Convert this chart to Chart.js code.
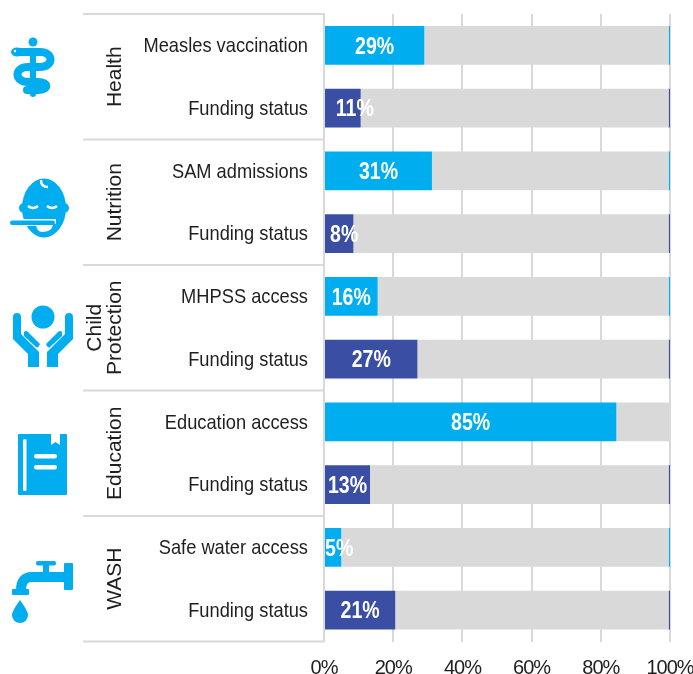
<!DOCTYPE html>
<html>
<head>
<meta charset="utf-8">
<style>
	html, body { margin: 0; padding: 0; background: #fff; }
	#wrap { position: relative; width: 693px; height: 674px; }
	#icons { position: absolute; left: 0; top: 0; pointer-events: none; }
</style>
<script src="https://cdn.jsdelivr.net/npm/chart.js@4"></script>
</head>
<body>
<div id="wrap">
	<canvas id="barChart" width="693" height="674"></canvas>
	<svg id="icons" width="693" height="674" fill="#00aeef">
		<!-- health -->
		<g>
			<circle cx="33" cy="42" r="4.5"/>
			<rect x="30" y="52" width="6" height="45" rx="3"/>
			<ellipse cx="17" cy="52" rx="6" ry="4.5"/>
			<path d="M17 52 H40 C54 52 54 67 40 67 H28 C14 67 14 82 28 82 H38 C49 82 49 90 38 90 H27" fill="none" stroke="#00aeef" stroke-width="8" stroke-linecap="round"/>
			<circle cx="15" cy="51" r="1.2" fill="#fff"/>
		</g>
		<!-- nutrition -->
		<g>
			<ellipse cx="44" cy="208" rx="22" ry="29.5"/>
			<circle cx="24" cy="208" r="5"/>
			<circle cx="64" cy="208" r="5"/>
			<path d="M41 180 Q41 187 48 187" fill="none" stroke="#fff" stroke-width="2.5"/>
			<path d="M28 206 Q33 210 38 206 M47 206 Q52 210 57 206" fill="none" stroke="#fff" stroke-width="2.5"/>
			<path d="M36 225 H53 Q52 232 42 232 Q37 232 36 225 Z" fill="#fff"/>
			<path d="M10 219 H56 V226 H10 Z" fill="#fff"/>
			<rect x="10" y="220.5" width="45" height="4.5" rx="2.2"/>
			<path d="M55 224 Q53 236 40 234" fill="none" stroke="#00aeef" stroke-width="3"/>
		</g>
		<!-- child protection -->
		<g>
			<circle cx="43" cy="317" r="11.5"/>
			<path id="hand" d="M13 317 Q13 313 17 313 Q21 313 21 317 V334 L39 352 V367 H28 V354 L13 339 Z M24 332 Q26 330 28 332 L40 344 Q38 349 36 347 L24 336 Z"/>
			<use href="#hand" transform="translate(86 0) scale(-1 1)"/>
		</g>
		<!-- education -->
		<g>
			<rect x="18" y="434" width="49" height="61" rx="1"/>
			<rect x="23" y="439" width="3.5" height="52" rx="1.5" fill="#fff"/>
			<path d="M51 434 H60 V445 L55.5 442 L51 445 Z" fill="#fff"/>
			<rect x="34" y="454" width="23" height="4.5" rx="2.2" fill="#fff"/>
			<rect x="34" y="465" width="23" height="4.5" rx="2.2" fill="#fff"/>
		</g>
		<!-- wash -->
		<g>
			<rect x="36" y="561" width="20" height="4.5" rx="2"/>
			<rect x="43" y="563" width="6" height="10"/>
			<rect x="64" y="563" width="9" height="27" rx="1"/>
			<path d="M66 577 H32 Q21 577 21 590" fill="none" stroke="#00aeef" stroke-width="10"/>
			<rect x="12" y="589" width="17" height="6" rx="1"/>
			<path d="M20 600 Q28 611 28 615 A8 8 0 0 1 12 615 Q12 611 20 600 Z"/>
		</g>
	</svg>
</div>
<script>
const categories = [
	"Measles vaccination", "Funding status",
	"SAM admissions", "Funding status",
	"MHPSS access", "Funding status",
	"Education access", "Funding status",
	"Safe water access", "Funding status"
]
const groups = [["Health"], ["Nutrition"], ["Child", "Protection"], ["Education"], ["WASH"]]
const coverage = [29, 10.6, 31.2, 8.5, 15.5, 27, 84.5, 13.3, 5, 20.6]
const remainder = [70.6, 89, 68.4, 91.1, 84.1, 72.6, 15.5, 86.3, 94.6, 79]
const endMark = [0.4, 0.4, 0.4, 0.4, 0.4, 0.4, 0, 0.4, 0.4, 0.4]
const barLabels = ["29%", "11%", "31%", "8%", "16%", "27%", "85%", "13%", "5%", "21%"]
const xTicks = [0, 20, 40, 60, 80, 100]

const lightBlue = "#00aeef"
const darkBlue = "#3a4fa3"
const lineGrey = "#d9d9d9"
const textColor = "#1f1f1f"
const barColors = categories.map((c, i) => i % 2 ? darkBlue : lightBlue)

// small shifts for the labels that don't sit centred on their short bars
const labelNudge = { 1: 12, 3: 5, 8: 6 }

// the original text is squeezed sideways, there's no narrow font here so scale the ctx
function squeezeY(axis) {
	if (axis.squeezed) return
	axis.squeezed = true
	const draw = axis.drawLabels
	axis.drawLabels = function (area) {
		const ctx = this.ctx
		const anchor = this.right - 16
		ctx.save()
		ctx.translate(anchor, 1)
		ctx.scale(0.87, 1)
		ctx.translate(-anchor, 0)
		draw.call(this, area)
		ctx.restore()
	}
}

function tightenX(axis) {
	if (axis.squeezed) return
	axis.squeezed = true
	const draw = axis.drawLabels
	axis.drawLabels = function (area) {
		const ctx = this.ctx
		ctx.save()
		ctx.letterSpacing = "-1px"
		draw.call(this, area)
		ctx.restore()
	}
}

const rowDecor = {
	id: "rowDecor",
	beforeDraw(chart) {
		const { ctx, scales: { y } } = chart
		ctx.save()
		ctx.strokeStyle = lineGrey
		ctx.lineWidth = 2
		ctx.fillStyle = textColor
		ctx.font = '21px "Liberation Sans"'
		ctx.textAlign = "center"
		ctx.textBaseline = "middle"
		for (let g = 0; g <= groups.length; g++) {
			const py = y.getPixelForValue(g * 2 - 0.5)
			ctx.beginPath()
			ctx.moveTo(83, py)
			ctx.lineTo(y.right, py)
			ctx.stroke()
		}
		groups.forEach((lines, g) => {
			const py = y.getPixelForValue(g * 2 + 0.5)
			lines.forEach((line, i) => {
				ctx.save()
				ctx.translate(115 - (lines.length - 1 - i) * 20, py)
				ctx.rotate(-Math.PI / 2)
				ctx.fillText(line, 0, 0)
				ctx.restore()
			})
		})
		ctx.restore()
	}
}

const barText = {
	id: "barText",
	afterDatasetsDraw(chart) {
		const { ctx } = chart
		const bars = chart.getDatasetMeta(0).data
		ctx.save()
		ctx.fillStyle = "#fff"
		ctx.font = 'bold 23px "Liberation Sans"'
		ctx.textAlign = "center"
		ctx.textBaseline = "middle"
		bars.forEach((bar, i) => {
			const x = (bar.x + bar.base) / 2 + (labelNudge[i] || 0)
			const w = ctx.measureText(barLabels[i]).width
			ctx.fillText(barLabels[i], x, bar.y + 2, w * 0.85)
		})
		ctx.restore()
	}
}

new Chart(document.getElementById("barChart"), {
	type: "bar",
	data: {
		labels: categories,
		datasets: [
			{ data: coverage, backgroundColor: barColors },
			{ data: remainder, backgroundColor: lineGrey },
			{ data: endMark, backgroundColor: barColors }
		]
	},
	options: {
		indexAxis: "y",
		responsive: false,
		animation: false,
		barPercentage: 0.62,
		categoryPercentage: 1,
		layout: { padding: { top: 14, right: 23, bottom: 0, left: 0 } },
		plugins: { legend: { display: false }, tooltip: { enabled: false } },
		scales: {
			x: {
				stacked: true,
				min: 0,
				max: 100,
				afterBuildTicks(axis) {
					axis.ticks = xTicks.map(v => ({ value: v }))
				},
				afterFit(axis) {
					axis.height = 32.5
					axis.paddingLeft = 0
					axis.paddingRight = 0
					tightenX(axis)
				},
				grid: { color: lineGrey, lineWidth: 2, drawTicks: false },
				border: { display: false },
				ticks: {
					color: textColor,
					font: { family: '"Liberation Sans"', size: 20 },
					maxRotation: 0,
					padding: 15,
					callback: v => v + "%"
				}
			},
			y: {
				stacked: true,
				afterFit(axis) {
					axis.width = 324
					axis.paddingTop = 0
					axis.paddingBottom = 0
					squeezeY(axis)
				},
				grid: { display: false, drawTicks: false },
				border: { color: lineGrey, width: 2 },
				ticks: {
					color: textColor,
					autoSkip: false,
					font: { family: '"Liberation Sans"', size: 21 },
					padding: 16
				}
			}
		}
	},
	plugins: [rowDecor, barText]
})
</script>
</body>
</html>
